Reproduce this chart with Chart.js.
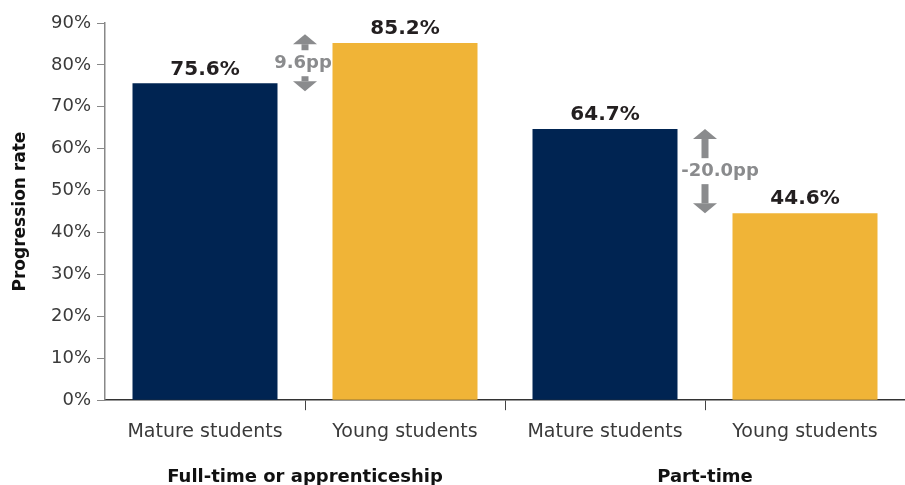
<!DOCTYPE html>
<html>
<head>
<meta charset="utf-8">
<script src="https://cdn.jsdelivr.net/npm/chart.js@4.4.1/dist/chart.umd.min.js"></script>
<style>
  html, body { margin: 0; padding: 0; background: #fff; }
  #wrap { width: 905px; height: 485px; position: relative; }
</style>
</head>
<body>
<div id="wrap"><canvas id="myChart"></canvas></div>
<script>
// datos del gráfico
const categories = ["Mature students", "Young students", "Mature students", "Young students"];
const values = [75.6, 85.2, 64.7, 44.6];
const groups = ["Full-time or apprenticeship", "Part-time"];
const diffLabels = ["9.6pp", "-20.0pp"];
const yTicks = [0, 10, 20, 30, 40, 50, 60, 70, 80, 90];

const navy = "#002452";
const gold = "#F0B437";
const grey = "#8a8b8d";
const fontFam = "'DejaVu Sans', sans-serif";

// etiquetas de valor, flechas de diferencia y grupos
const extras = {
    id: "extras",
    afterDatasetsDraw(chart) {
        const ctx = chart.ctx;
        const bars = chart.getDatasetMeta(0).data;
        const yScale = chart.scales.y;

        ctx.save();
        ctx.fillStyle = "#231f20";
        ctx.font = "bold 20px " + fontFam;
        ctx.textAlign = "center";
        ctx.textBaseline = "bottom";
        bars.forEach((bar, i) => {
            ctx.fillText(values[i].toFixed(1) + "%", bar.x, bar.y - 4);
        });

        // flechas entre cada par
        diffLabels.forEach((label, g) => {
            const a = values[g * 2], b = values[g * 2 + 1];
            const x = (bars[g * 2].x + bars[g * 2 + 1].x) / 2;
            const yMid = yScale.getPixelForValue((a + b) / 2);
            const yHigh = yScale.getPixelForValue(Math.max(a, b));
            const yLow = yScale.getPixelForValue(Math.min(a, b));

            ctx.fillStyle = grey;
            ctx.font = "bold 18px " + fontFam;
            ctx.textBaseline = "middle";
            ctx.fillText(label, x + (label[0] === "-" ? 15 : -2), yMid);

            drawArrow(ctx, x, yMid - 13, Math.min(yHigh, yMid - 29));
            drawArrow(ctx, x, yMid + 13, Math.max(yLow, yMid + 28));
        });

        // nombres de grupo debajo del eje
        ctx.fillStyle = "#111";
        ctx.font = "bold 18px " + fontFam;
        ctx.textBaseline = "middle";
        groups.forEach((name, g) => {
            const x = (bars[g * 2].x + bars[g * 2 + 1].x) / 2;
            ctx.fillText(name, x, 477);
        });
        ctx.restore();
    }
};

function drawArrow(ctx, x, yStart, yTip) {
    const dir = yTip < yStart ? -1 : 1;
    const head = 10;
    ctx.fillStyle = grey;
    ctx.fillRect(x - 3.5, Math.min(yStart, yTip - dir * head), 7, Math.abs(yTip - dir * head - yStart));
    ctx.beginPath();
    ctx.moveTo(x - 12, yTip - dir * head);
    ctx.lineTo(x + 12, yTip - dir * head);
    ctx.lineTo(x, yTip);
    ctx.closePath();
    ctx.fill();
}

const chartCtx = document.getElementById("myChart").getContext("2d");

new Chart(chartCtx, {
    type: "bar",
    data: {
        labels: categories,
        datasets: [{
            data: values,
            backgroundColor: [navy, gold, navy, gold],
            barPercentage: 0.725,
            categoryPercentage: 1
        }]
    },
    options: {
        responsive: true,
        maintainAspectRatio: false,
        animation: false,
        layout: { padding: { top: 23, right: 0, bottom: 32, left: 0 } },
        plugins: {
            legend: { display: false },
            tooltip: { enabled: false }
        },
        scales: {
            x: {
                grid: {
                    drawOnChartArea: false,
                    tickLength: 10,
                    color: (c) => c.index > 0 ? "#444" : "rgba(0,0,0,0)"
                },
                border: { color: "#333", width: 1.5 },
                ticks: {
                    color: "#3a3a3a",
                    font: { family: fontFam, size: 19 },
                    padding: 10
                }
            },
            y: {
                min: 0,
                max: 90,
                afterBuildTicks: (axis) => { axis.ticks = yTicks.map(v => ({ value: v })); },
                afterFit: (axis) => { axis.width = 105; },
                grid: { drawOnChartArea: false, tickLength: 8, color: "#888" },
                border: { color: "#888", width: 1.5 },
                ticks: {
                    color: "#3a3a3a",
                    font: { family: fontFam, size: 18 },
                    padding: 6,
                    callback: (v) => v + "%"
                },
                title: {
                    display: true,
                    text: "Progression rate",
                    color: "#111",
                    font: { family: fontFam, size: 17, weight: "bold" },
                    padding: { top: 10, bottom: 0 }
                }
            }
        }
    },
    plugins: [extras]
});
</script>
</body>
</html>
